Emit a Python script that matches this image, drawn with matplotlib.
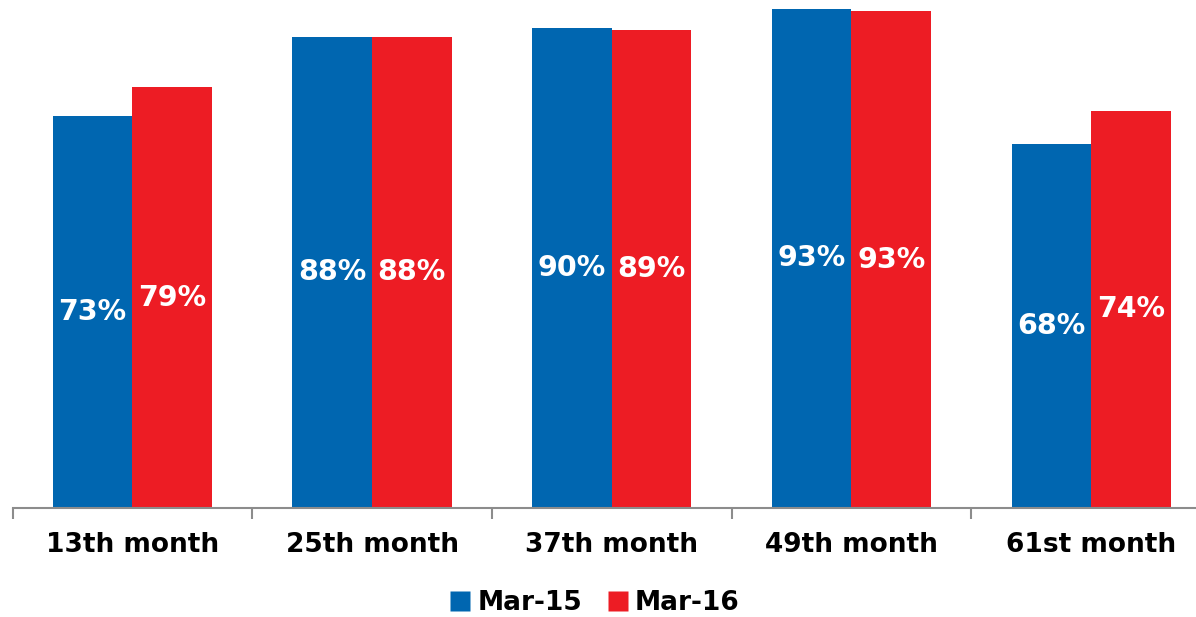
import matplotlib
matplotlib.use("Agg")
import matplotlib.pyplot as plt
import numpy as np
from matplotlib.lines import Line2D

categories = ["13th month", "25th month", "37th month", "49th month", "61st month"]
series_names = ["Mar-15", "Mar-16"]
mar15 = [73.0, 87.8, 89.4, 93.0, 67.8]
mar16 = [78.4, 87.8, 89.1, 92.6, 74.0]
mar15_labels = ["73%", "88%", "90%", "93%", "68%"]
mar16_labels = ["79%", "88%", "89%", "93%", "74%"]

colors = ["#0066B0", "#ED1C24"]

W, H = 1196, 617
fig = plt.figure(figsize=(W / 100, H / 100), dpi=100)
ax = fig.add_axes([12.5 / W, (H - 508) / H, 1198.5 / W, 508 / H])

x = np.arange(len(categories))
bw = 0.332
b1 = ax.bar(x - bw / 2, mar15, bw, color=colors[0], edgecolor="none")
b2 = ax.bar(x + bw / 2, mar16, bw, color=colors[1], edgecolor="none")

font = "DejaVu Sans"
for bars, labs in ((b1, mar15_labels), (b2, mar16_labels)):
    for rect, lab in zip(bars, labs):
        ax.text(rect.get_x() + rect.get_width() / 2, rect.get_height() / 2, lab,
                ha="center", va="center", color="white", fontsize=20.5,
                fontweight="bold", family=font)

ax.set_xlim(-0.5, len(categories) - 0.5)
ax.set_ylim(0, 94.67)
for s in ("top", "right", "left"):
    ax.spines[s].set_visible(False)
ax.spines["bottom"].set_color("#8c8c8c")
ax.spines["bottom"].set_linewidth(1.5)
ax.set_yticks([])
ax.set_xticks(np.arange(len(categories) + 1) - 0.5, minor=True)
ax.set_xticks(x)
ax.set_xticklabels(categories, fontsize=19, fontweight="bold", family=font)
ax.tick_params(axis="x", which="major", length=0, pad=17)
ax.tick_params(axis="x", which="minor", length=8, width=1.5, color="#8c8c8c")

handles = [Line2D([0], [0], marker="s", linestyle="none", markersize=15,
                  markerfacecolor=c, markeredgecolor="none") for c in colors]
fig.legend(handles, series_names, loc="center", bbox_to_anchor=(590 / W, (H - 603) / H),
           ncol=2, frameon=False, handletextpad=-0.1, columnspacing=0.6,
           handlelength=1.5,
           prop={"family": font, "weight": "bold", "size": 19})

fig.savefig("out.png", dpi=100)
